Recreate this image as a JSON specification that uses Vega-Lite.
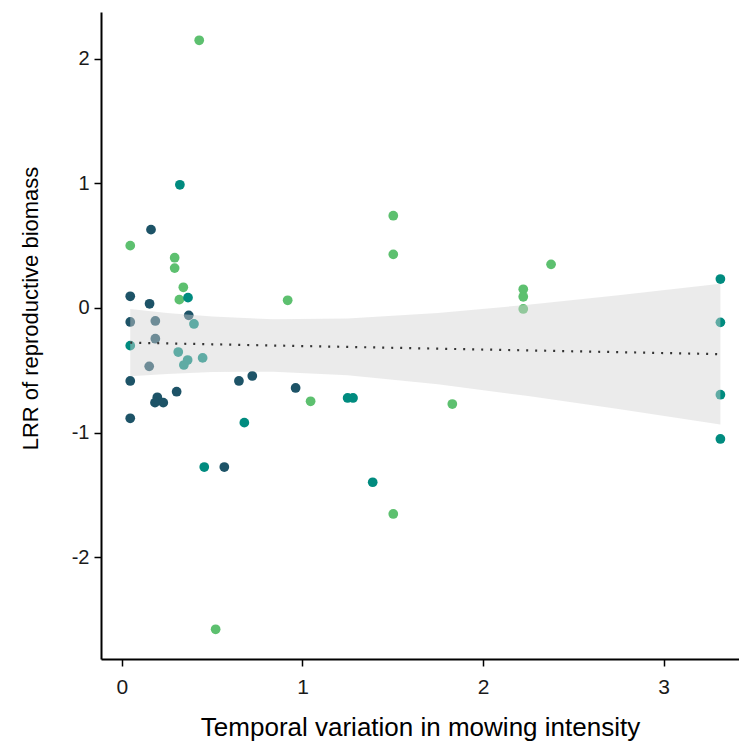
{
  "$schema": "https://vega.github.io/schema/vega-lite/v6.json",
  "width": 638,
  "height": 647,
  "autosize": {"type": "none"},
  "padding": {"left": 101, "top": 12, "right": 0, "bottom": 86},
  "background": "white",
  "config": {
    "view": {"stroke": null},
    "font": "Liberation Sans",
    "axis": {
      "grid": false,
      "domainColor": "#000000",
      "domainWidth": 2,
      "tickColor": "#000000",
      "tickWidth": 1.5,
      "tickSize": 7,
      "labelFontSize": 20,
      "labelColor": "#1a1a1a",
      "labelFont": "Liberation Sans",
      "titleFont": "Liberation Sans",
      "titleFontWeight": "normal",
      "titleColor": "#000000"
    }
  },
  "datasets": {
    "pts": [
      {"x": 0.428, "y": 2.146, "g": "green"},
      {"x": 0.046, "y": 0.50, "g": "green"},
      {"x": 0.292, "y": 0.403, "g": "green"},
      {"x": 0.292, "y": 0.32, "g": "green"},
      {"x": 0.34, "y": 0.166, "g": "green"},
      {"x": 0.318, "y": 0.067, "g": "green"},
      {"x": 0.918, "y": 0.062, "g": "green"},
      {"x": 1.045, "y": -0.748, "g": "green"},
      {"x": 1.503, "y": 0.74, "g": "green"},
      {"x": 1.503, "y": 0.43, "g": "green"},
      {"x": 1.503, "y": -1.651, "g": "green"},
      {"x": 2.377, "y": 0.35, "g": "green"},
      {"x": 2.223, "y": 0.15, "g": "green"},
      {"x": 2.223, "y": 0.09, "g": "green"},
      {"x": 2.223, "y": -0.008, "g": "green"},
      {"x": 1.83, "y": -0.77, "g": "green"},
      {"x": 0.519, "y": -2.576, "g": "green"},
      {"x": 0.161, "y": 0.628, "g": "dark"},
      {"x": 0.046, "y": 0.094, "g": "dark"},
      {"x": 0.153, "y": 0.034, "g": "dark"},
      {"x": 0.37, "y": -0.059, "g": "dark"},
      {"x": 0.046, "y": -0.112, "g": "dark"},
      {"x": 0.185, "y": -0.104, "g": "dark"},
      {"x": 0.185, "y": -0.246, "g": "dark"},
      {"x": 0.151, "y": -0.468, "g": "dark"},
      {"x": 0.046, "y": -0.585, "g": "dark"},
      {"x": 0.648, "y": -0.585, "g": "dark"},
      {"x": 0.722, "y": -0.545, "g": "dark"},
      {"x": 0.303, "y": -0.671, "g": "dark"},
      {"x": 0.196, "y": -0.716, "g": "dark"},
      {"x": 0.183, "y": -0.759, "g": "dark"},
      {"x": 0.229, "y": -0.759, "g": "dark"},
      {"x": 0.046, "y": -0.884, "g": "dark"},
      {"x": 0.962, "y": -0.641, "g": "dark"},
      {"x": 0.567, "y": -1.275, "g": "dark"},
      {"x": 0.321, "y": 0.988, "g": "teal"},
      {"x": 0.366, "y": 0.083, "g": "teal"},
      {"x": 0.046, "y": -0.302, "g": "teal"},
      {"x": 0.312, "y": -0.353, "g": "teal"},
      {"x": 0.364, "y": -0.417, "g": "teal"},
      {"x": 0.343, "y": -0.457, "g": "teal"},
      {"x": 0.447, "y": -0.40, "g": "teal"},
      {"x": 0.399, "y": -0.128, "g": "teal"},
      {"x": 0.678, "y": -0.919, "g": "teal"},
      {"x": 0.456, "y": -1.275, "g": "teal"},
      {"x": 1.25, "y": -0.721, "g": "teal"},
      {"x": 1.28, "y": -0.721, "g": "teal"},
      {"x": 1.389, "y": -1.397, "g": "teal"},
      {"x": 3.315, "y": 0.232, "g": "teal"},
      {"x": 3.315, "y": -0.115, "g": "teal"},
      {"x": 3.315, "y": -0.695, "g": "teal"},
      {"x": 3.315, "y": -1.05, "g": "teal"}
    ],
    "fit": [
      {"x": 0.046, "fit": -0.278, "lo": -0.548, "hi": -0.008},
      {"x": 0.25, "fit": -0.284, "lo": -0.529, "hi": -0.040},
      {"x": 0.5, "fit": -0.291, "lo": -0.513, "hi": -0.069},
      {"x": 0.84, "fit": -0.301, "lo": -0.511, "hi": -0.091},
      {"x": 1.25, "fit": -0.312, "lo": -0.539, "hi": -0.085},
      {"x": 1.75, "fit": -0.326, "lo": -0.611, "hi": -0.041},
      {"x": 2.25, "fit": -0.340, "lo": -0.706, "hi": 0.026},
      {"x": 2.75, "fit": -0.354, "lo": -0.810, "hi": 0.102},
      {"x": 3.315, "fit": -0.370, "lo": -0.935, "hi": 0.195}
    ]
  },
  "layer": [
    {
      "data": {"name": "pts"},
      "mark": {"type": "circle", "size": 95, "opacity": 1},
      "encoding": {
        "x": {
          "field": "x", "type": "quantitative",
          "scale": {"domain": [-0.116, 3.418], "nice": false, "zero": false},
          "axis": {
            "values": [0, 1, 2, 3],
            "labelExpr": "'' + datum.value",
            "labelPadding": 10,
            "labelFontSize": 21,
            "title": "Temporal variation in mowing intensity",
            "titleFontSize": 26,
            "titlePadding": 17
          }
        },
        "y": {
          "field": "y", "type": "quantitative",
          "scale": {"domain": [-2.814, 2.373], "nice": false, "zero": false},
          "axis": {
            "values": [-2, -1, 0, 1, 2],
            "labelExpr": "'' + datum.value",
            "labelPadding": 5,
            "title": "LRR of reproductive biomass",
            "titleFontSize": 22,
            "titleX": -71,
            "titleY": 296,
            "titleAngle": -90,
            "titleAlign": "center",
            "titleBaseline": "middle"
          }
        },
        "color": {
          "field": "g", "type": "nominal",
          "scale": {"domain": ["green", "teal", "dark"], "range": ["#5DC06F", "#008B7F", "#1D5367"]},
          "legend": null
        }
      }
    },
    {
      "data": {"name": "fit"},
      "mark": {"type": "area", "color": "#D2D2D2", "opacity": 0.45},
      "encoding": {
        "x": {"field": "x", "type": "quantitative"},
        "y": {"field": "lo", "type": "quantitative"},
        "y2": {"field": "hi"}
      }
    },
    {
      "data": {"name": "fit"},
      "mark": {"type": "line", "color": "#333333", "strokeWidth": 2.2, "strokeDash": [2, 7]},
      "encoding": {
        "x": {"field": "x", "type": "quantitative"},
        "y": {"field": "fit", "type": "quantitative"}
      }
    }
  ]
}
